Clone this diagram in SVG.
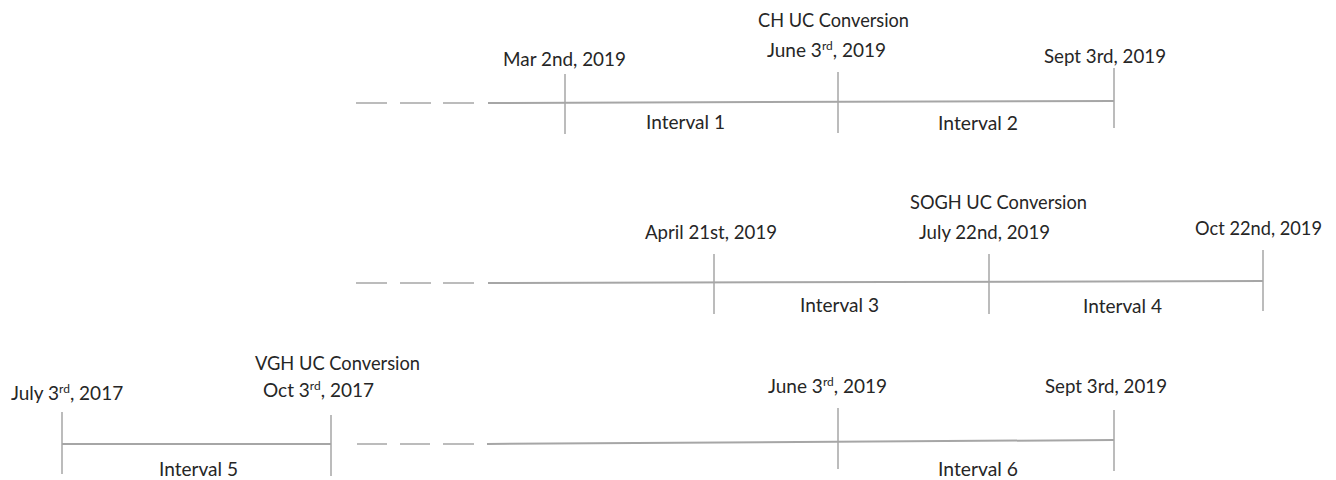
<svg xmlns="http://www.w3.org/2000/svg" width="1336" height="480" viewBox="0 0 1336 480">
<style>
text{font-family:Lato,"Open Sans","Liberation Sans",sans-serif;font-size:19px;fill:#262626}
.tick{stroke:#a6a6a6;stroke-width:1.5;fill:none}
.seg{stroke:#a6a6a6;stroke-width:2;fill:none}
.dash{stroke:#a6a6a6;stroke-width:1.5;fill:none}
.sup{font-size:12px}
</style>
<rect width="1336" height="480" fill="#ffffff"/>

<g id="connectors">
  <!-- row 1 -->
  <line class="dash" x1="356" y1="103" x2="387" y2="103"/>
  <line class="dash" x1="400" y1="103" x2="431" y2="103"/>
  <line class="dash" x1="443" y1="103" x2="474" y2="103"/>
  <line class="seg" x1="488" y1="103" x2="1114" y2="101"/>
  <text x="646" y="129" textLength="79" lengthAdjust="spacingAndGlyphs">Interval 1</text>
  <text x="938" y="130" textLength="80" lengthAdjust="spacingAndGlyphs">Interval 2</text>
  <!-- row 2 -->
  <line class="dash" x1="356" y1="283" x2="387" y2="283"/>
  <line class="dash" x1="400" y1="283" x2="431" y2="283"/>
  <line class="dash" x1="443" y1="283" x2="474" y2="283"/>
  <line class="seg" x1="488" y1="283" x2="1263" y2="281"/>
  <text x="800" y="312" textLength="79" lengthAdjust="spacingAndGlyphs">Interval 3</text>
  <text x="1083" y="313" textLength="79" lengthAdjust="spacingAndGlyphs">Interval 4</text>
  <!-- row 3 -->
  <line class="seg" x1="62" y1="444" x2="331" y2="444"/>
  <line class="dash" x1="357" y1="444" x2="387" y2="444"/>
  <line class="dash" x1="400" y1="444" x2="430" y2="444"/>
  <line class="dash" x1="443" y1="444" x2="474" y2="444"/>
  <line class="seg" x1="487" y1="444" x2="1114" y2="440"/>
  <text x="159" y="476" textLength="79" lengthAdjust="spacingAndGlyphs">Interval 5</text>
  <text x="938" y="476" textLength="80" lengthAdjust="spacingAndGlyphs">Interval 6</text>
</g>

<g id="mar2-2019">
  <line class="tick" x1="565" y1="74" x2="565" y2="134"/>
  <text x="503" y="66" textLength="123" lengthAdjust="spacingAndGlyphs">Mar 2nd, 2019</text>
</g>
<g id="ch-june3-2019">
  <line class="tick" x1="838" y1="72" x2="838" y2="133"/>
  <text x="758" y="27" textLength="151" lengthAdjust="spacingAndGlyphs">CH UC Conversion</text>
  <text x="767" y="57">June 3<tspan class="sup" dy="-7">rd</tspan><tspan dy="7">, 2019</tspan></text>
</g>
<g id="sept3-2019-a">
  <line class="tick" x1="1114" y1="68" x2="1114" y2="128"/>
  <text x="1044" y="63" textLength="122" lengthAdjust="spacingAndGlyphs">Sept 3rd, 2019</text>
</g>

<g id="april21-2019">
  <line class="tick" x1="714" y1="254" x2="714" y2="314"/>
  <text x="645" y="239" textLength="132" lengthAdjust="spacingAndGlyphs">April 21st, 2019</text>
</g>
<g id="sogh-july22-2019">
  <line class="tick" x1="989" y1="254" x2="989" y2="314"/>
  <text x="910" y="209" textLength="177" lengthAdjust="spacingAndGlyphs">SOGH UC Conversion</text>
  <text x="919" y="239" textLength="131" lengthAdjust="spacingAndGlyphs">July 22nd, 2019</text>
</g>
<g id="oct22-2019">
  <line class="tick" x1="1263" y1="250" x2="1263" y2="311"/>
  <text x="1195" y="235" textLength="127" lengthAdjust="spacingAndGlyphs">Oct 22nd, 2019</text>
</g>

<g id="july3-2017">
  <line class="tick" x1="62" y1="412" x2="62" y2="474"/>
  <text x="11" y="400">July 3<tspan class="sup" dy="-7">rd</tspan><tspan dy="7">, 2017</tspan></text>
</g>
<g id="vgh-oct3-2017">
  <line class="tick" x1="331" y1="415" x2="331" y2="476"/>
  <text x="255" y="370" textLength="165" lengthAdjust="spacingAndGlyphs">VGH UC Conversion</text>
  <text x="263" y="397">Oct 3<tspan class="sup" dy="-7">rd</tspan><tspan dy="7">, 2017</tspan></text>
</g>
<g id="june3-2019">
  <line class="tick" x1="838" y1="408" x2="838" y2="469"/>
  <text x="768" y="393">June 3<tspan class="sup" dy="-7">rd</tspan><tspan dy="7">, 2019</tspan></text>
</g>
<g id="sept3-2019-b">
  <line class="tick" x1="1114" y1="410" x2="1114" y2="471"/>
  <text x="1045" y="393" textLength="122" lengthAdjust="spacingAndGlyphs">Sept 3rd, 2019</text>
</g>
</svg>
